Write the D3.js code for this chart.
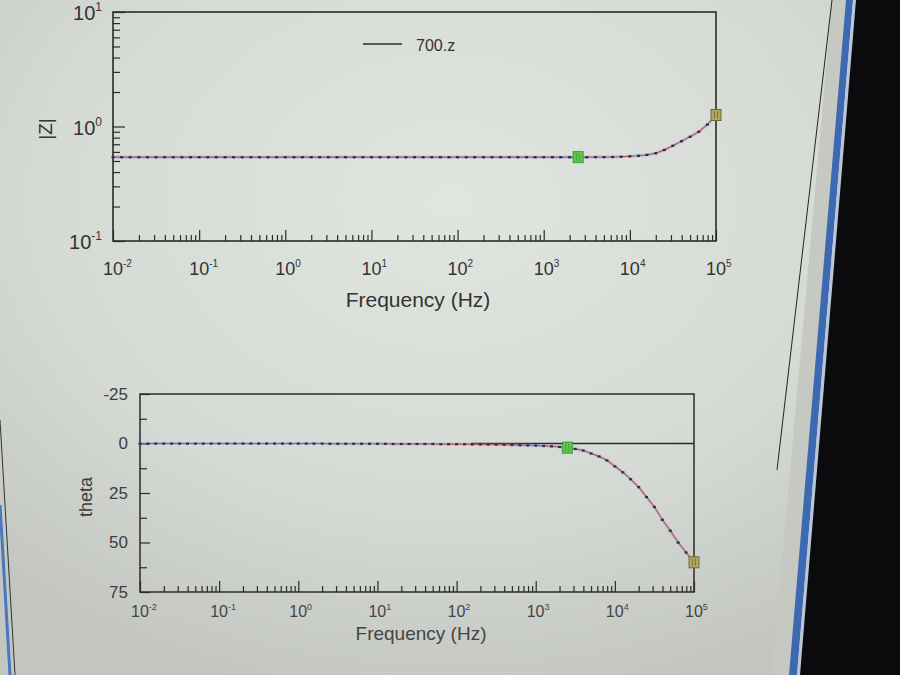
<!DOCTYPE html>
<html>
<head>
<meta charset="utf-8">
<script src="https://cdn.jsdelivr.net/npm/d3@7"></script>
<style>
  html, body { margin: 0; padding: 0; background: #d4d7d1; }
  svg { display: block; }
  text { font-family: "Liberation Sans", Arial, sans-serif; }
</style>
</head>
<body>
<script>
// ---------------- data ----------------
const seriesName = "700.z";
const freqs = [
  0.01, 0.0126, 0.0158, 0.02, 0.0251, 0.0316, 0.0398, 0.0501, 0.0631, 0.0794,
  0.1, 0.126, 0.158, 0.2, 0.251, 0.316, 0.398, 0.501, 0.631, 0.794,
  1, 1.26, 1.58, 2, 2.51, 3.16, 3.98, 5.01, 6.31, 7.94,
  10, 12.6, 15.8, 20, 25.1, 31.6, 39.8, 50.1, 63.1, 79.4,
  100, 126, 158, 200, 251, 316, 398, 501, 631, 794,
  1000, 1260, 1580, 2000, 2510, 3160, 3980, 5010, 6310, 7940,
  10000, 12600, 15800, 20000, 25100, 31600, 39800, 50100, 63100, 79400,
  100000
];
const zMag = [
  0.54, 0.54, 0.54, 0.54, 0.54, 0.54, 0.54, 0.54, 0.54, 0.54,
  0.54, 0.54, 0.54, 0.54, 0.54, 0.54, 0.54, 0.54, 0.54, 0.54,
  0.54, 0.54, 0.54, 0.54, 0.54, 0.54, 0.54, 0.54, 0.54, 0.54,
  0.54, 0.54, 0.54, 0.54, 0.54, 0.54, 0.54, 0.54, 0.54, 0.54,
  0.54, 0.54, 0.54, 0.54, 0.54, 0.54, 0.54, 0.54, 0.54, 0.54,
  0.54, 0.54, 0.54, 0.54, 0.54, 0.54, 0.541, 0.541, 0.542, 0.545,
  0.55, 0.556, 0.566, 0.585, 0.625, 0.68, 0.745, 0.815, 0.9, 1.04,
  1.26
];
const theta = [
  0, 0, 0, 0, 0, 0, 0, 0, 0, 0,
  0, 0, 0, 0, 0, 0, 0, 0, 0, 0,
  0, 0, 0, 0, 0.1, 0.1, 0.1, 0.1, 0.1, 0.1,
  0.1, 0.1, 0.2, 0.2, 0.2, 0.2, 0.2, 0.2, 0.3, 0.3,
  0.3, 0.3, 0.4, 0.4, 0.5, 0.5, 0.6, 0.7, 0.8, 0.9,
  1.0, 1.2, 1.4, 1.7, 2.1, 2.7, 3.5, 5, 6.5, 8.5,
  11.5, 14.5, 18, 22, 27, 32, 38.5, 44, 50, 55,
  60
];
const selectedFreq = 2510;      // green cursor marker
const endFreq = 100000;         // end marker
const zeroLineFrom = 150;       // reference line at theta = 0 (visible part)
const decadeExps = [-2, -1, 0, 1, 2, 3, 4, 5];
const zTickExps = [1, 0, -1];
const thetaTicks = [-25, 0, 25, 50, 75];
const thetaMinor = [-12.5, 12.5, 37.5, 62.5];
const xLabel = "Frequency (Hz)";
const zLabel = "|Z|";
const thetaLabel = "theta";

const rows = freqs.map((f, i) => ({ f: f, z: zMag[i], t: theta[i] }));

// ---------------- canvas ----------------
const W = 900, H = 675;
const svg = d3.select("body").append("svg").attr("width", W).attr("height", H);
const defs = svg.append("defs");
const rg = defs.append("radialGradient").attr("id", "bg")
  .attr("cx", 0.5).attr("cy", 0.3).attr("r", 0.75);
rg.append("stop").attr("offset", "0%").attr("stop-color", "#e1e5df");
rg.append("stop").attr("offset", "60%").attr("stop-color", "#d6dad4");
rg.append("stop").attr("offset", "100%").attr("stop-color", "#c3c6c0");
svg.append("rect").attr("width", W).attr("height", H).attr("fill", "url(#bg)");

const ink = "#2b2b2b";

const minorX = [];
decadeExps.slice(0, -1).forEach(e => {
  for (let m = 2; m <= 9; m++) minorX.push(m * Math.pow(10, e));
});
const majorX = decadeExps.map(e => Math.pow(10, e));
const minorZ = [];
[-1, 0].forEach(e => { for (let m = 2; m <= 9; m++) minorZ.push(m * Math.pow(10, e)); });

function styleAxis(g) {
  g.select(".domain").remove();
  g.selectAll(".tick line").attr("stroke", ink).attr("stroke-width", 1.2);
}
function supLabel(g, x, y, exp, size, anchor, color) {
  const t = g.append("text").attr("x", x).attr("y", y)
    .attr("font-size", size).attr("fill", color).attr("text-anchor", anchor);
  t.append("tspan").text("10");
  t.append("tspan").attr("font-size", Math.round(size * 0.58))
    .attr("dy", -Math.round(size * 0.45)).text(exp);
  return t;
}

// ---------------- top: |Z| ----------------
const pTop = { l: 113, r: 716, t: 12, b: 241 };
const xTop = d3.scaleLog().domain([1e-2, 1e5]).range([pTop.l, pTop.r]);
const yTop = d3.scaleLog().domain([0.1, 10]).range([pTop.b, pTop.t]);
const gT = svg.append("g");

gT.append("rect").attr("x", pTop.l).attr("y", pTop.t)
  .attr("width", pTop.r - pTop.l).attr("height", pTop.b - pTop.t)
  .attr("fill", "none").attr("stroke", ink).attr("stroke-width", 1.6);

gT.append("g").attr("transform", `translate(0,${pTop.b})`)
  .call(d3.axisBottom(xTop).tickValues(minorX).tickSize(-6).tickFormat(""))
  .call(styleAxis);
gT.append("g").attr("transform", `translate(0,${pTop.b})`)
  .call(d3.axisBottom(xTop).tickValues(majorX).tickSize(-11).tickFormat(""))
  .call(styleAxis);
gT.append("g").attr("transform", `translate(${pTop.l},0)`)
  .call(d3.axisLeft(yTop).tickValues(minorZ).tickSize(-7).tickFormat(""))
  .call(styleAxis);
gT.append("g").attr("transform", `translate(${pTop.l},0)`)
  .call(d3.axisLeft(yTop).tickValues([0.1, 1, 10]).tickSize(-12).tickFormat(""))
  .call(styleAxis);

decadeExps.forEach(e => {
  supLabel(gT, xTop(Math.pow(10, e)) - 10, 275, String(e), 18, "start", "#333");
});
zTickExps.forEach(e => {
  supLabel(gT, pTop.l - 11, yTop(Math.pow(10, e)) + 8, String(e), 20, "end", "#333");
});
gT.append("text").attr("x", 418).attr("y", 307).attr("text-anchor", "middle")
  .attr("font-size", 21).attr("fill", "#333").text(xLabel);
gT.append("text").attr("transform", "translate(52,129) rotate(-90)")
  .attr("text-anchor", "middle").attr("font-size", 19).attr("fill", "#333").text(zLabel);

// legend
gT.append("line").attr("x1", 363).attr("x2", 402).attr("y1", 44).attr("y2", 44)
  .attr("stroke", ink).attr("stroke-width", 1.5);
gT.append("text").attr("x", 416).attr("y", 51).attr("font-size", 16)
  .attr("fill", "#333").text(seriesName);

const lineTop = d3.line().x(d => xTop(d.f)).y(d => yTop(d.z));
gT.append("path").datum(rows).attr("d", lineTop).attr("fill", "none")
  .attr("stroke", "#8193dc").attr("stroke-width", 3.2).attr("opacity", 0.35);
gT.append("path").datum(rows).attr("d", lineTop).attr("fill", "none")
  .attr("stroke", "#c84c4e").attr("stroke-width", 1.1);
gT.selectAll("rect.pt").data(rows).join("rect").attr("class", "pt")
  .attr("x", d => xTop(d.f) - 1.5).attr("y", d => yTop(d.z) - 1)
  .attr("width", 3).attr("height", 2.2).attr("fill", "#26285a");

// ---------------- bottom: theta ----------------
const pBot = { l: 140, r: 694, t: 394, b: 592 };
const xBot = d3.scaleLog().domain([1e-2, 1e5]).range([pBot.l, pBot.r]);
const yBot = d3.scaleLinear().domain([-25, 75]).range([pBot.t, pBot.b]);
const gB = svg.append("g");

gB.append("rect").attr("x", pBot.l).attr("y", pBot.t)
  .attr("width", pBot.r - pBot.l).attr("height", pBot.b - pBot.t)
  .attr("fill", "none").attr("stroke", ink).attr("stroke-width", 1.5);

gB.append("g").attr("transform", `translate(0,${pBot.b})`)
  .call(d3.axisBottom(xBot).tickValues(minorX).tickSize(-6).tickFormat(""))
  .call(styleAxis);
gB.append("g").attr("transform", `translate(0,${pBot.b})`)
  .call(d3.axisBottom(xBot).tickValues(majorX).tickSize(-11).tickFormat(""))
  .call(styleAxis);
gB.append("g").attr("transform", `translate(${pBot.l},0)`)
  .call(d3.axisLeft(yBot).tickValues(thetaMinor).tickSize(-7).tickFormat(""))
  .call(styleAxis);
const yAxB = gB.append("g").attr("transform", `translate(${pBot.l},0)`)
  .call(d3.axisLeft(yBot).tickValues(thetaTicks).tickSize(-10).tickPadding(12)
    .tickFormat(d => String(d)))
  .call(styleAxis);
yAxB.selectAll("text").attr("font-size", 17).attr("fill", "#3d3d3d")
  .attr("font-family", "Liberation Sans, Arial, sans-serif");

decadeExps.forEach(e => {
  supLabel(gB, xBot(Math.pow(10, e)) - 9, 617, String(e), 16, "start", "#444");
});
gB.append("text").attr("x", 421).attr("y", 640).attr("text-anchor", "middle")
  .attr("font-size", 19).attr("fill", "#444").text(xLabel);
gB.append("text").attr("transform", "translate(92,497) rotate(-90)")
  .attr("text-anchor", "middle").attr("font-size", 18).attr("fill", "#3d3d3d").text(thetaLabel);

gB.append("line").attr("x1", xBot(zeroLineFrom)).attr("x2", pBot.r)
  .attr("y1", yBot(0)).attr("y2", yBot(0)).attr("stroke", ink).attr("stroke-width", 1.3);

const lineBot = d3.line().x(d => xBot(d.f)).y(d => yBot(d.t));
gB.append("path").datum(rows).attr("d", lineBot).attr("fill", "none")
  .attr("stroke", "#8193dc").attr("stroke-width", 3).attr("opacity", 0.3);
gB.append("path").datum(rows).attr("d", lineBot).attr("fill", "none")
  .attr("stroke", "#c84c4e").attr("stroke-width", 1.1);
gB.selectAll("rect.pt").data(rows).join("rect").attr("class", "pt")
  .attr("x", d => xBot(d.f) - 1.5).attr("y", d => yBot(d.t) - 1)
  .attr("width", 3).attr("height", 2.2).attr("fill", "#2a2c5c");

// ---------------- cursor markers ----------------
const selRow = rows.find(d => d.f === selectedFreq);
const endRow = rows.find(d => d.f === endFreq);
function marker(g, x, y, fill, stroke) {
  g.append("rect").attr("x", x - 5).attr("y", y - 5.5).attr("width", 10).attr("height", 11)
    .attr("fill", fill).attr("stroke", stroke).attr("stroke-width", 1);
  g.append("line").attr("x1", x - 1.5).attr("x2", x - 1.5).attr("y1", y - 3.5).attr("y2", y + 3.5)
    .attr("stroke", stroke).attr("stroke-width", 0.8);
  g.append("line").attr("x1", x + 1.5).attr("x2", x + 1.5).attr("y1", y - 3.5).attr("y2", y + 3.5)
    .attr("stroke", stroke).attr("stroke-width", 0.8);
}
marker(gT, xTop(selRow.f), yTop(selRow.z), "#5cc84f", "#3e9a36");
marker(gB, xBot(selRow.f), yBot(selRow.t), "#5cc84f", "#3e9a36");
marker(gT, xTop(endRow.f), yTop(endRow.z), "#b2a55e", "#6f6a3a");
marker(gB, xBot(endRow.f), yBot(endRow.t), "#b2a55e", "#6f6a3a");

// ---------------- photo frame decorations (monitor edge) ----------------
const deco = svg.append("g");
deco.append("polygon").attr("points", "832,0 848,0 790,675 772,675").attr("fill", "#c6c8c2");
deco.append("line").attr("x1", 832).attr("y1", 0).attr("x2", 777).attr("y2", 470)
  .attr("stroke", "#222").attr("stroke-width", 1);
deco.append("polygon").attr("points", "846,0 853,0 797,675 789,675").attr("fill", "#3d69b3");
deco.append("polygon").attr("points", "853,0 856,0 800,675 797,675").attr("fill", "#b9c6d6");
deco.append("polygon").attr("points", "856,0 900,0 900,675 800,675").attr("fill", "#0b0b0d");
deco.append("line").attr("x1", 0).attr("y1", 505).attr("x2", 10).attr("y2", 675)
  .attr("stroke", "#4a78c0").attr("stroke-width", 3);
deco.append("line").attr("x1", 0).attr("y1", 420).attr("x2", 15).attr("y2", 675)
  .attr("stroke", "#333").attr("stroke-width", 1);
</script>
</body>
</html>
